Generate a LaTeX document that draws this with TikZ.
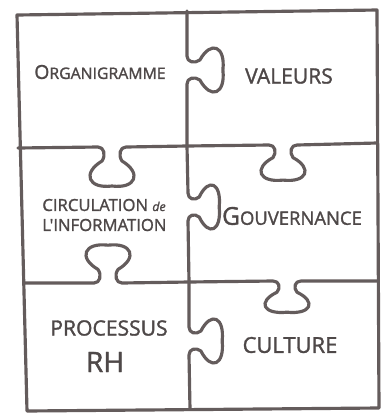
\documentclass[tikz,border=0pt]{standalone}
\usepackage{fontspec}
\setmainfont{Open Sans}
\newfontfamily\hand{Open Sans}[FakeBold=1.4]
\definecolor{pencil}{RGB}{100,92,92}
\definecolor{ink}{RGB}{78,72,72}
% puzzle knob on a horizontal edge: centre x, edge y, signed depth factor
\newcommand\hknob[3]{%
  -- ({#1-14},#2)
  .. controls ({#1-8},#2) and ({#1-6},{#2+#3*8}) .. ({#1-10},{#2+#3*14})
  .. controls ({#1-30},{#2+#3*26}) and ({#1-24},{#2+#3*42}) .. (#1,{#2+#3*39})
  .. controls ({#1+24},{#2+#3*42}) and ({#1+30},{#2+#3*26}) .. ({#1+10},{#2+#3*14})
  .. controls ({#1+6},{#2+#3*8}) and ({#1+8},#2) .. ({#1+14},#2)}
% puzzle knob on a vertical edge: edge x, centre y, signed depth factor
\newcommand\vknob[3]{%
  -- (#1,{#2-14})
  .. controls (#1,{#2-8}) and ({#1+#3*8},{#2-6}) .. ({#1+#3*14},{#2-10})
  .. controls ({#1+#3*26},{#2-30}) and ({#1+#3*42},{#2-24}) .. ({#1+#3*39},#2)
  .. controls ({#1+#3*42},{#2+24}) and ({#1+#3*26},{#2+30}) .. ({#1+#3*14},{#2+10})
  .. controls ({#1+#3*8},{#2+6}) and (#1,{#2+8}) .. (#1,{#2+14})}
\begin{document}
\begin{tikzpicture}[x=0.02cm,y=-0.02cm,
  edge/.style={draw=pencil,line width=1.8pt,line cap=round,line join=round},
  word/.style={text=ink,inner sep=0pt}]
\useasboundingbox (0,0) rectangle (388,417);
\fill[white] (0,0) rectangle (388,417);

% outer frame
\draw[edge] (17,15) -- (377,10) -- (379,408) -- (27,411) -- cycle;
% vertical seam
\draw[edge] (187,11) \vknob{187}{70}{0.92} -- (187,146) \vknob{188}{207}{0.8}
  -- (189,282) \vknob{189}{341}{0.85} -- (190,409);
% horizontal seams
\draw[edge] (18,148) \hknob{112}{147}{1.0} -- (187,146) \hknob{283}{145}{0.9} -- (377,143);
\draw[edge] (25,283) \hknob{108}{283}{-0.97} -- (189,282) \hknob{287}{281}{0.8} -- (378,281);

% piece labels
\node[word,font=\hand\fontsize{9}{11}\selectfont] (org) at (100,72)
  {{\fontsize{11}{12}\selectfont O}RGANIGRAMME};
\node[word,font=\hand\fontsize{12}{14}\selectfont] (val) at (289,76) {VALEURS};
\node[word,font=\hand\fontsize{9.5}{11}\selectfont,anchor=west] (circ) at (42,205)
  {CIRCULATION {\fontsize{7}{8}\selectfont\itshape de}};
\node[word,font=\hand\fontsize{9.5}{11}\selectfont,anchor=west] (info) at (42,225)
  {L'INFORMATION};
\node[word,font=\hand\fontsize{10.5}{12}\selectfont] (gouv) at (292,216)
  {{\fontsize{14}{16}\selectfont G}OUVERNANCE};
\node[word,font=\hand\fontsize{12}{14}\selectfont] (proc) at (109,328) {PROCESSUS};
\node[word,font=\hand\fontsize{16}{18}\selectfont] (rh) at (105,362) {RH};
\node[word,font=\hand\fontsize{12.5}{14}\selectfont] (cult) at (290,345) {CULTURE};
\end{tikzpicture}
\end{document}
